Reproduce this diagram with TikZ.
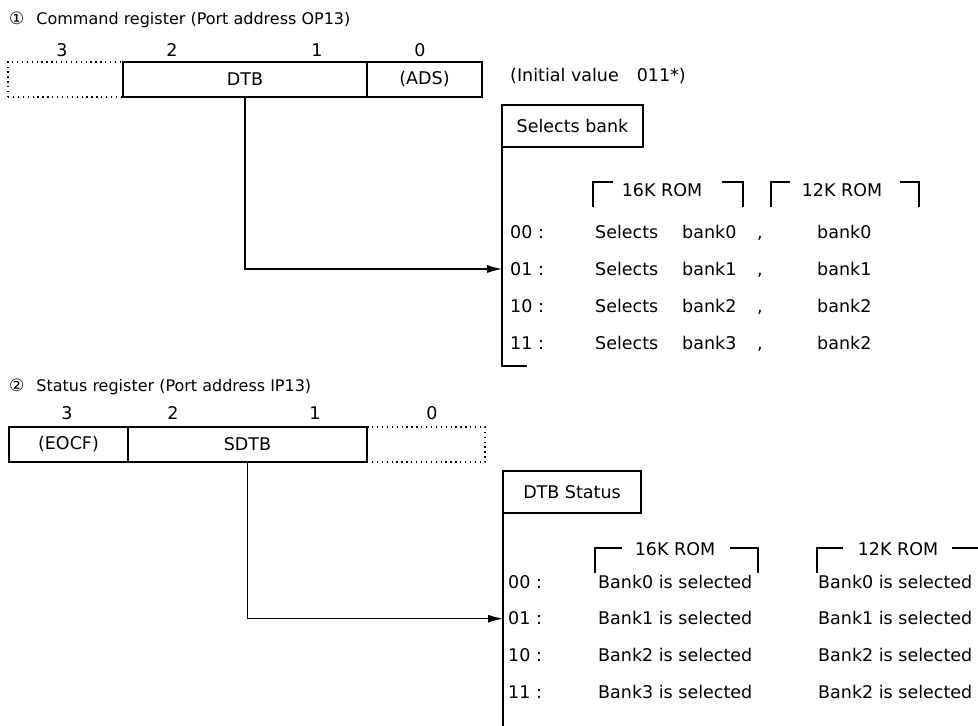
\documentclass[tikz,border=0pt]{standalone}
\usepackage{fontspec}
\setmainfont{DejaVu Sans}
\usetikzlibrary{arrows.meta,positioning}
\tikzset{
  field/.style = {draw, line width=1.3pt, minimum height=35pt, inner sep=0pt, outer sep=0pt},
  blank/.style = {field, dash pattern=on 1.3pt off 3.6pt},
  tagbox/.style = {draw, line width=1.3pt, anchor=north west, minimum height=42pt, inner sep=0pt, outer sep=0pt},
  txt/.style   = {anchor=west, inner sep=0pt, text height=14pt, text depth=2pt},
  hdr/.style   = {inner sep=0pt},
  rail/.style  = {line width=1.3pt},
  line/.style  = {-{Latex[length=15pt,width=8pt]}, line width=1.1pt},
}
\newcommand{\circnum}[1]{{\fontsize{17}{17}\selectfont #1}}

\begin{document}
\begin{tikzpicture}[x=1pt, y=-1pt, font=\fontsize{17.5}{20}\selectfont]
  \useasboundingbox (0,0) rectangle (978,726);

  % --- command register
  \node[txt, font=\fontsize{16}{19}\selectfont] (t1) at (9,18) {\circnum{①}\hspace{12pt}Command register (Port address OP13)};
  \node[blank, minimum width=115pt] (u3) at (65.5,79.5) {};
  \node[field, minimum width=244pt, right=0pt of u3] (DTB) {DTB};
  \node[field, minimum width=115pt, right=0pt of DTB] (ADS) {(ADS)};
  \node[hdr] (b3) at (62,50) {3};
  \node[hdr] (b2) at (172,50) {2};
  \node[hdr] (b1) at (317,50) {1};
  \node[hdr] (b0) at (420,50) {0};
  \node[txt] (init) at (510,75) {(Initial value\hspace{18pt}011*)};

  \node[tagbox, minimum width=141pt] (sel) at (502,105) {Selects bank};
  \draw[rail] (sel.south west) -- ++(0,219) -- ++(25,0);

  \node[hdr] (h16) at (662,190) {16K ROM};
  \node[hdr] (h12) at (842,190) {12K ROM};
  \draw[rail] (593,207) -- (593,182) -- (613,182);
  \draw[rail] (722,182) -- (743,182) -- (743,207);
  \draw[rail] (771,207) -- (771,182) -- (790,182);
  \draw[rail] (900,182) -- (919,182) -- (919,207);

  \foreach \code/\bk/\bkb [count=\i from 0] in {00/bank0/bank0, 01/bank1/bank1, 10/bank2/bank2, 11/bank3/bank2} {
    \pgfmathsetmacro\yy{232+37*\i}
    \node[txt] (c\i) at (510,\yy) {\code\ :};
    \node[txt] (s\i) at (595,\yy) {Selects};
    \node[txt] (k\i) at (682,\yy) {\bk};
    \node[txt] (m\i) at (757,\yy) {,};
    \node[txt] (q\i) at (817,\yy) {\bkb};
  }
  \draw[line] (DTB.south) |- (sel.west |- c1);

  % --- status register
  \node[txt, font=\fontsize{16}{19}\selectfont] (t2) at (9,385) {\circnum{②}\hspace{12pt}Status register (Port address IP13)};
  \node[field, minimum width=119pt] (EOCF) at (68.5,444.5) {(EOCF)};
  \node[field, minimum width=239pt, right=0pt of EOCF] (SDTB) {SDTB};
  \node[blank, minimum width=118pt, right=0pt of SDTB] (u0) {};
  \node[hdr] (d3) at (67,413) {3};
  \node[hdr] (d2) at (173,413) {2};
  \node[hdr] (d1) at (315,413) {1};
  \node[hdr] (d0) at (432,413) {0};

  \node[tagbox, minimum width=138pt] (st) at (503,471) {DTB Status};
  \draw[rail] (st.south west) -- ++(0,213);

  \node[hdr] (g16) at (675,549) {16K ROM};
  \node[hdr] (g12) at (898,549) {12K ROM};
  \draw[rail] (595,573) -- (595,548) -- (622,548);
  \draw[rail] (730,548) -- (758,548) -- (758,573);
  \draw[rail] (817,573) -- (817,548) -- (843,548);
  \draw[rail] (952,548) -- (978,548);

  \foreach \code/\bk/\bkb [count=\i from 0] in {00/Bank0/Bank0, 01/Bank1/Bank1, 10/Bank2/Bank2, 11/Bank3/Bank2} {
    \pgfmathsetmacro\yy{582+36.7*\i}
    \node[txt] (e\i) at (508,\yy) {\code\ :};
    \node[txt] (f\i) at (598,\yy) {\bk\ is selected};
    \node[txt] (g\i) at (818,\yy) {\bkb\ is selected};
  }
  \draw[line] (SDTB.south) |- (st.west |- e1);
\end{tikzpicture}
\end{document}
